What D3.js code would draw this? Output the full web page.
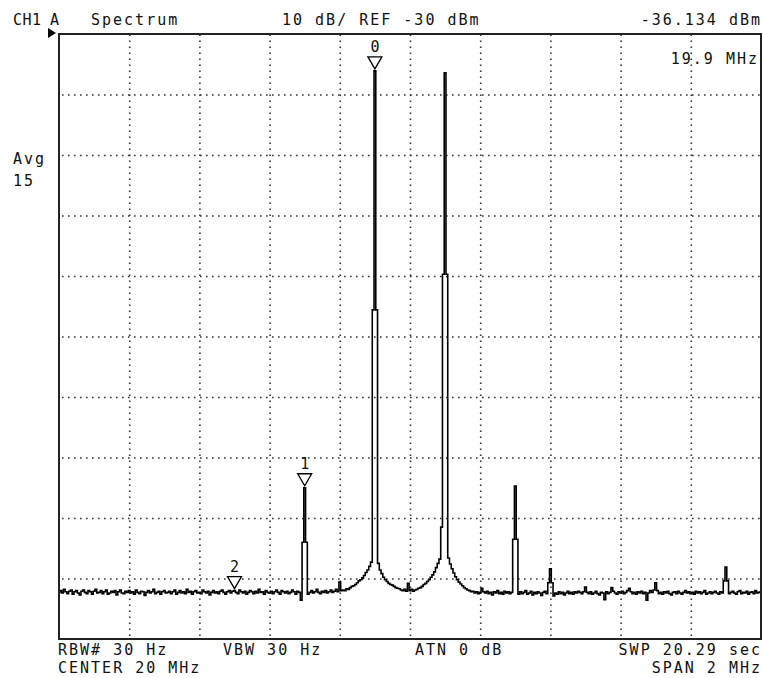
<!DOCTYPE html>
<html><head><meta charset="utf-8">
<script src="https://cdn.jsdelivr.net/npm/d3@7"></script>
<style>
html,body{margin:0;padding:0;background:#fff;}
svg{display:block;}
text{font-family:"DejaVu Sans Mono",monospace;font-size:15px;fill:#111;letter-spacing:2px;}
</style></head><body>
<svg id="chart" width="763" height="678"></svg>
<script>
// ---- data ----
const centerMHz = 20;
const spanMHz = 2;
const refLevelDbm = -30;
const dbPerDiv = 10;
const freqStartMHz = 19.0;
const freqStepMHz = 0.005;
const freqGridMHz = [19.2, 19.4, 19.6, 19.8, 20.0, 20.2, 20.4, 20.6, 20.8];
const levelGridDbm = [-40, -50, -60, -70, -80, -90, -100, -110, -120];
const traceDbm = [
-122.3,-122.0,-122.4,-121.8,-122.2,-122.5,-122.1,-121.9,-122.6,-122.2,-122.0,-122.4,-122.7,-122.1,-121.9,-122.3,-122.5,-122.0,-122.2,-122.6,
-122.1,-121.8,-122.4,-122.3,-122.0,-122.5,-122.2,-121.9,-122.6,-122.4,-122.1,-122.3,-122.0,-122.7,-122.2,-121.9,-122.4,-122.5,-122.1,-122.3,
-122.0,-122.4,-122.2,-122.6,-121.9,-122.3,-122.5,-122.1,-122.2,-122.8,-122.3,-122.0,-122.4,-122.2,-121.8,-122.5,-122.3,-122.1,-122.6,-122.2,
-122.0,-122.4,-122.3,-122.1,-122.5,-122.2,-121.9,-122.6,-122.3,-122.0,-122.4,-122.2,-122.5,-121.8,-122.3,-122.1,-122.6,-122.2,-122.0,-122.4,
-122.3,-122.5,-121.9,-122.2,-122.4,-122.1,-122.7,-122.3,-122.0,-122.4,-122.2,-122.5,-122.1,-121.9,-122.3,-122.6,-122.2,-122.0,-122.4,-122.1,
-122.0,-122.3,-122.5,-121.9,-122.2,-122.4,-122.1,-122.6,-122.3,-122.0,-122.2,-122.5,-122.1,-122.4,-121.8,-122.3,-122.2,-122.6,-122.0,-122.3,
-122.4,-122.1,-122.5,-122.2,-121.9,-122.3,-122.6,-122.0,-122.2,-122.4,-122.1,-122.5,-122.3,-121.9,-122.2,-122.6,-122.1,-122.3,-123.6,-114.0,
-105.0,-114.0,-122.6,-122.3,-122.0,-122.4,-122.2,-121.8,-122.3,-122.5,-122.1,-122.3,-122.0,-122.4,-122.2,-121.9,-122.3,-122.1,-121.8,-122.2,
-120.6,-122.0,-121.9,-122.0,-121.7,-121.8,-121.5,-121.3,-121.2,-121.0,-120.7,-120.4,-120.2,-119.9,-119.5,-119.0,-118.6,-118.0,-117.3,-75.6,
-36.1,-75.6,-117.5,-118.6,-119.2,-119.8,-120.2,-120.5,-120.8,-121.0,-121.1,-121.3,-121.5,-121.6,-121.7,-121.9,-122.0,-121.8,-122.1,-120.8,
-122.0,-121.8,-122.1,-121.9,-121.8,-121.6,-121.5,-121.3,-121.0,-120.8,-120.5,-120.2,-119.8,-119.4,-118.9,-118.2,-117.5,-116.8,-111.5,-69.7,
-36.4,-69.7,-116.6,-117.6,-118.4,-119.1,-119.7,-120.2,-120.6,-120.9,-121.2,-121.5,-121.7,-121.9,-122.0,-122.2,-122.1,-122.4,-122.2,-122.5,
-122.3,-121.6,-122.2,-122.4,-122.1,-122.5,-122.3,-122.7,-122.2,-122.4,-122.0,-122.5,-122.3,-122.6,-122.1,-122.4,-122.2,-122.5,-122.3,-113.5,
-104.7,-113.5,-122.6,-122.2,-122.5,-122.3,-122.0,-122.6,-122.4,-122.1,-122.7,-122.3,-122.5,-122.2,-122.4,-122.8,-122.3,-122.1,-122.5,-120.7,
-118.4,-120.7,-122.9,-122.4,-122.6,-122.2,-122.5,-122.3,-122.7,-122.4,-122.1,-122.5,-122.3,-122.6,-122.2,-122.4,-122.1,-122.3,-122.5,-122.2,
-121.4,-122.3,-122.5,-122.2,-122.6,-122.4,-122.1,-122.5,-122.7,-122.3,-122.4,-123.5,-122.2,-122.5,-122.3,-121.5,-122.1,-122.4,-122.6,-122.2,
-122.4,-122.1,-122.5,-122.3,-122.0,-121.6,-122.2,-122.5,-122.3,-122.6,-122.2,-122.4,-122.1,-122.5,-122.3,-123.6,-122.4,-122.0,-122.3,-121.9,
-120.7,-122.0,-122.5,-122.3,-122.6,-122.2,-122.4,-122.1,-122.5,-122.7,-122.3,-122.2,-122.5,-122.1,-122.4,-122.6,-122.3,-122.0,-122.4,-122.2,
-122.5,-122.3,-122.6,-122.1,-122.4,-122.2,-122.5,-122.3,-122.0,-122.6,-122.4,-122.2,-122.5,-122.3,-122.1,-122.4,-122.6,-122.2,-122.4,-120.4,
-118.1,-120.4,-122.5,-122.3,-122.1,-122.4,-122.6,-122.2,-122.0,-122.5,-122.3,-122.4,-122.1,-122.6,-122.3,-122.2,-122.5,-122.0,-122.4,-122.3,
-122.2
];
const markerLabels = ["0", "1", "2"];
const markerFreqsMHz = [19.9, 19.7, 19.5];
const headerTexts = ["CH1", "A", "Spectrum", "10 dB/ REF -30 dBm", "-36.134 dBm"];
const markerReadout = "19.9 MHz";
const avgTexts = ["Avg", "15"];
const footerTexts = ["RBW# 30 Hz", "CENTER  20 MHz", "VBW 30 Hz", "ATN  0 dB", "SWP  20.29  sec", "SPAN  2 MHz"];

// ---- layout ----
const svg = d3.select("#chart");
const L = 59, R = 761, T = 34, B = 639;
const divs = 10;
const x = d3.scaleLinear().domain([centerMHz - spanMHz / 2, centerMHz + spanMHz / 2]).range([L, R]);
const y = d3.scaleLinear().domain([refLevelDbm - divs * dbPerDiv, refLevelDbm]).range([B, T]);
const freqOf = i => freqStartMHz + i * freqStepMHz;

// grid through axes
const gx = svg.append("g").attr("transform", `translate(0,${B})`)
  .call(d3.axisBottom(x).tickValues(freqGridMHz).tickSize(-(B - T)).tickFormat(""));
gx.select(".domain").remove();
gx.selectAll(".tick line").attr("stroke", "#333").attr("stroke-width", 1.6)
  .attr("stroke-dasharray", "1.6 4.4").attr("stroke-dashoffset", -3);

const gy = svg.append("g").attr("transform", `translate(${L},0)`)
  .call(d3.axisLeft(y).tickValues(levelGridDbm).tickSize(-(R - L)).tickFormat(""));
gy.select(".domain").remove();
gy.selectAll(".tick line").attr("stroke", "#333").attr("stroke-width", 1.6)
  .attr("stroke-dasharray", "1.6 4.4").attr("stroke-dashoffset", -3);

// trace (stepped, as drawn by the analyser display)
const line = d3.line().curve(d3.curveStep).x((d, i) => x(freqOf(i))).y(d => y(d));
svg.append("path").datum(traceDbm).attr("d", line)
  .attr("fill", "none").attr("stroke", "#000").attr("stroke-width", 1.6);

// frame
svg.append("rect").attr("x", L).attr("y", T).attr("width", R - L).attr("height", B - T)
  .attr("fill", "none").attr("stroke", "#222").attr("stroke-width", 2);

// reference level pointer
const yr = y(refLevelDbm);
svg.append("path").attr("d", `M${L - 11},${yr - 6}L${L - 3},${yr - 1}L${L - 11},${yr + 4}Z`).attr("fill", "#000");

// markers
markerFreqsMHz.forEach((f, k) => {
  const idx = Math.round((f - freqStartMHz) / freqStepMHz);
  const px = x(freqOf(idx));
  const tip = y(traceDbm[idx]) - 2;
  const top = tip - 12;
  svg.append("path").attr("d", `M${px - 7},${top}L${px + 7},${top}L${px},${tip}Z`)
    .attr("fill", "#fff").attr("stroke", "#000").attr("stroke-width", 1.3);
  svg.append("text").attr("x", px).attr("y", top - 5).attr("text-anchor", "middle")
    .style("font-size", "15px").style("letter-spacing", "0px").text(markerLabels[k]);
});

// texts
const t = (s, xx, yy, anchor) => svg.append("text").attr("x", xx).attr("y", yy)
  .attr("text-anchor", anchor || "start").text(s);
t(headerTexts[0], 13, 25).style("letter-spacing", "0.5px");
t(headerTexts[1], 50, 25);
t(headerTexts[2], 91, 25);
t(headerTexts[3], 282, 25);
t(headerTexts[4], 762, 25, "end");
t(markerReadout, 759, 64, "end");
t(avgTexts[0], 13, 164);
t(avgTexts[1], 13, 186);
t(footerTexts[0], 58, 655);
t(footerTexts[1], 58, 672.5);
t(footerTexts[2], 223, 655);
t(footerTexts[3], 415, 655);
t(footerTexts[4], 762, 655, "end");
t(footerTexts[5], 762, 672.5, "end");
</script>
</body></html>
